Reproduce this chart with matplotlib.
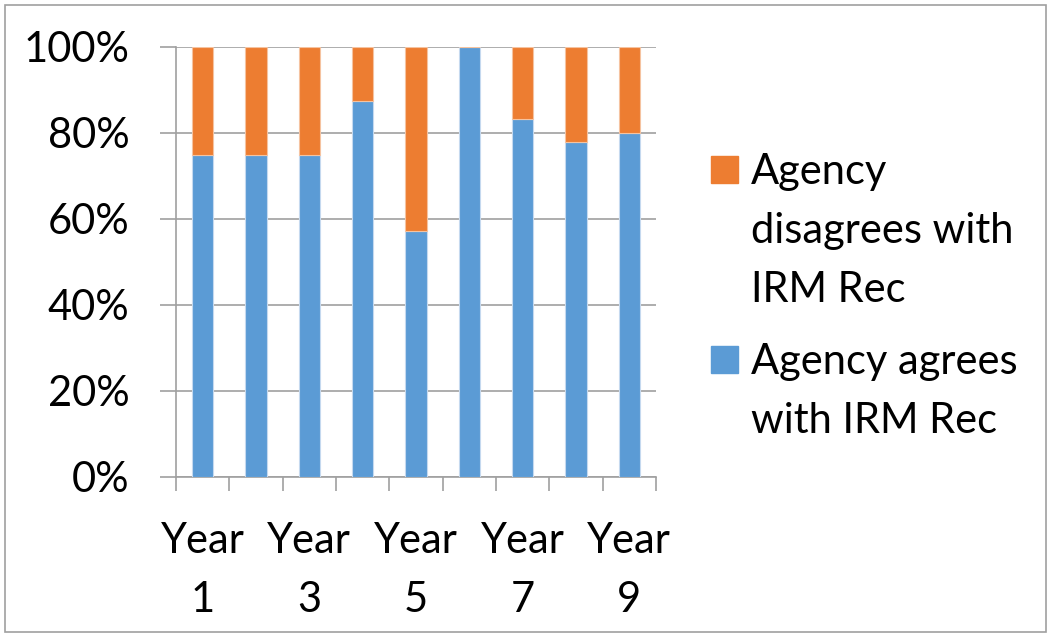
import numpy as np
import matplotlib.pyplot as plt
from matplotlib.patches import Rectangle
from matplotlib.transforms import blended_transform_factory

plt.rcParams['font.family'] = ['Lato', 'DejaVu Sans']

years = ['Year\n1', 'Year\n2', 'Year\n3', 'Year\n4', 'Year\n5',
         'Year\n6', 'Year\n7', 'Year\n8', 'Year\n9']
agrees = [75.0, 75.0, 75.0, 87.5, 57.1, 100.0, 83.3, 77.8, 80.0]
disagrees = [100 - a for a in agrees]
legend_labels = ['Agency\ndisagrees with\nIRM Rec', 'Agency agrees\nwith IRM Rec']

blue = '#5B9BD5'
orange = '#ED7D31'
gray = '#a0a0a0'

W, H = 1051, 635
fig = plt.figure(figsize=(W / 100, H / 100), dpi=100)
ax = fig.add_axes([176 / W, 1 - 477 / H, 480 / W, 430 / H])

x = np.arange(len(years))
ax.bar(x, agrees, width=0.4, color=blue, edgecolor='#c5d9ef', linewidth=0.8, zorder=3)
ax.bar(x, disagrees, bottom=agrees, width=0.4, color=orange, edgecolor='#f5c3a0',
       linewidth=0.8, zorder=3)

ax.set_xlim(-0.5, 8.5)
ax.set_ylim(0, 100)
ax.set_yticks(np.arange(0, 101, 20))
ax.set_yticklabels([f'{v}%' for v in range(0, 101, 20)])
ax.yaxis.grid(True, color=gray, linewidth=1.2, zorder=0)

ax.set_xticks([])
ax.set_xticks(np.arange(-0.5, 9, 1), minor=True)
ax.tick_params(axis='x', which='minor', length=10, width=1.2, color=gray, direction='out')
ax.tick_params(axis='y', length=11.5, width=1.2, color=gray, pad=22, labelsize=30)

# category labels (every other one, as in the original), two lines each
tr = blended_transform_factory(ax.transData, fig.transFigure)
for xi, lab in zip(x[::2], years[::2]):
    for i, line in enumerate(lab.split('\n')):
        ax.text(xi, 1 - (553 + 59 * i) / H, line, transform=tr, fontsize=30,
                ha='center', va='baseline')

for s in ['top', 'right']:
    ax.spines[s].set_visible(False)
for s in ['left', 'bottom']:
    ax.spines[s].set_color(gray)
    ax.spines[s].set_linewidth(1.2)

# legend drawn by hand so the swatch sits on the first line of each entry
entries = [(orange, legend_labels[0], 184), (blue, legend_labels[1], 374)]
for color, label, base in entries:
    fig.patches.append(Rectangle((711 / W, 1 - (base - 1) / H), 27 / W, 27 / H,
                                 transform=fig.transFigure, color=color))
    for i, line in enumerate(label.split('\n')):
        fig.text(751 / W, 1 - (base + 59 * i) / H, line, fontsize=30, va='baseline', ha='left')

fig.patches.append(Rectangle((0.005, 0.005), 0.99, 0.987, transform=fig.transFigure,
                             fill=False, edgecolor=gray, linewidth=1.2))

fig.savefig('out.png', dpi=100)
